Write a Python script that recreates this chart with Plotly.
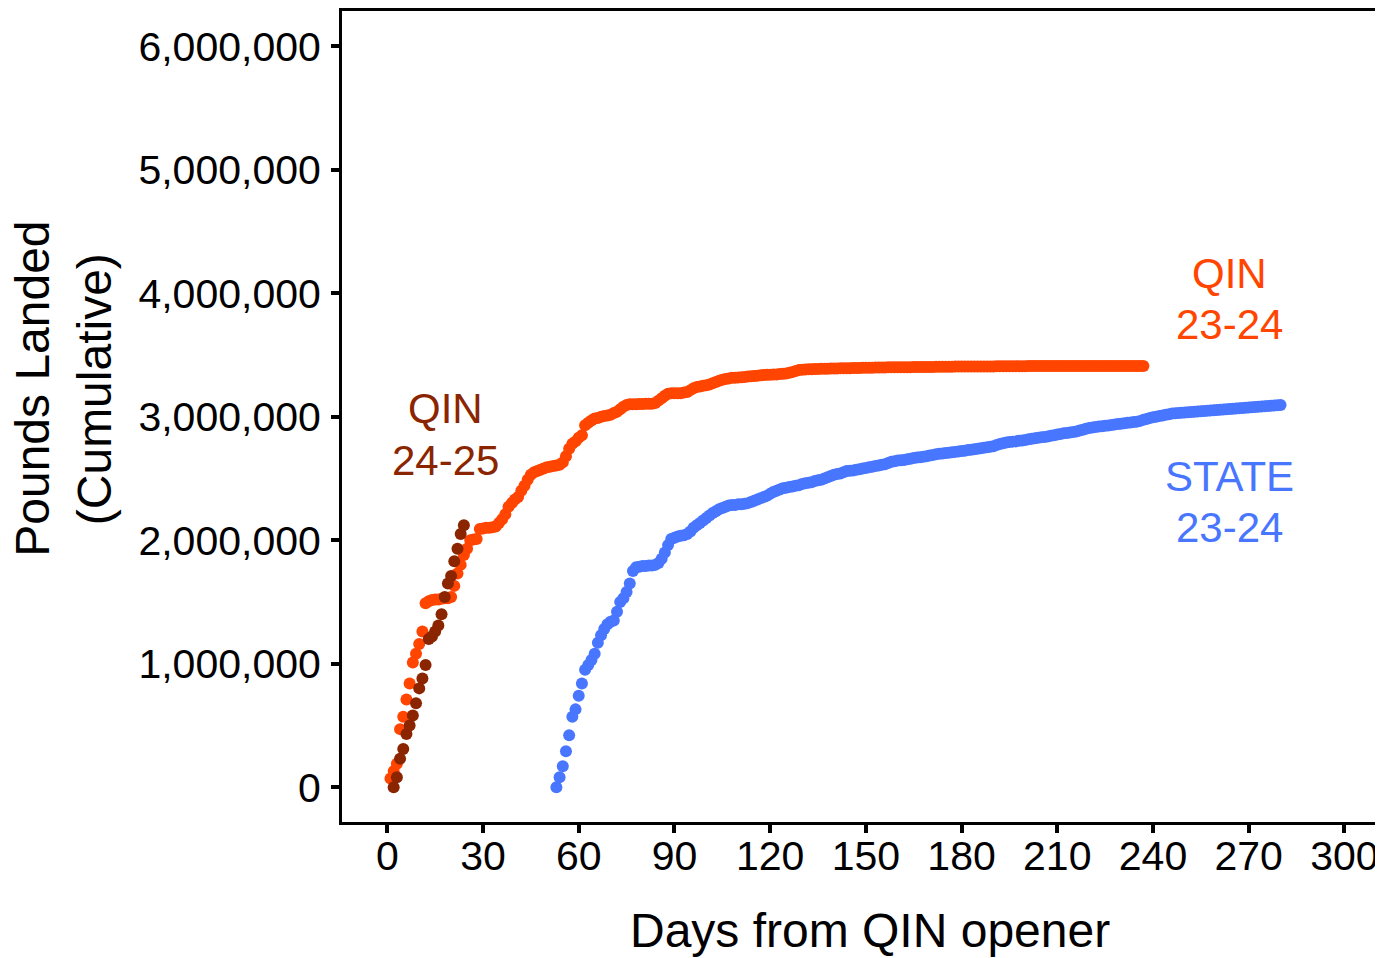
import plotly.graph_objects as go

# ---------------- data (cumulative pounds landed, thousands of lbs) ----------------
qin2324_start_day = 1
qin2324_k = [
    70, 130, 190, 470, 570, 710, 840, 1010, 1080, 1160,
    1260, 1490, 1505, 1515, 1520, 1520, 1525, 1530, 1530, 1540,
    1630, 1730, 1800, 1880, 1930, 2000, 2005, 2010, 2090, 2095,
    2100, 2100, 2105, 2110, 2140, 2170, 2210, 2270, 2300, 2330,
    2350, 2400, 2440, 2490, 2530, 2550, 2560, 2570, 2580, 2590,
    2595, 2600, 2605, 2610, 2630, 2680, 2740, 2780, 2800, 2830,
    2850, 2930, 2950, 2970, 2985, 2990, 3000, 3005, 3010, 3015,
    3030, 3040, 3060, 3080, 3095, 3100, 3100, 3100, 3102, 3102,
    3105, 3105, 3105, 3110, 3130, 3150, 3170, 3185, 3190, 3190,
    3190, 3190, 3195, 3200, 3215, 3230, 3240, 3245, 3250, 3255,
    3260, 3270, 3280, 3290, 3300, 3305, 3310, 3315, 3315, 3318,
    3320, 3322, 3325, 3328, 3330, 3332, 3335, 3338, 3340, 3340,
    3342, 3342, 3345, 3348, 3350, 3355, 3362, 3370, 3378, 3380,
    3382, 3384, 3385, 3386, 3387, 3388, 3388, 3389, 3390, 3390,
    3391, 3392, 3392, 3393, 3393, 3394, 3395, 3395, 3396, 3396,
    3397, 3397, 3398, 3398, 3399, 3399, 3400, 3400, 3400, 3400,
    3401, 3401, 3401, 3401, 3402, 3402, 3402, 3402, 3402, 3403,
    3403, 3404, 3405, 3405, 3405, 3405, 3405, 3406, 3406, 3406,
    3406, 3406, 3406, 3407, 3407, 3407, 3407, 3407, 3407, 3407,
    3408, 3408, 3409, 3409, 3409, 3409, 3409, 3409, 3409, 3409,
    3410, 3410, 3410, 3410, 3410, 3410, 3410, 3410, 3410, 3410,
    3410, 3410, 3410, 3410, 3410, 3410, 3410, 3410, 3410, 3410,
    3410, 3410, 3410, 3410, 3410, 3410, 3410, 3410, 3410, 3410,
    3410, 3410, 3410, 3410, 3410, 3410, 3410,
]

state2324_start_day = 53
state2324_k = [
    0, 80, 170, 290, 420, 570, 630, 740, 840, 950,
    990, 1030, 1080, 1170, 1230, 1280, 1320, 1340, 1350, 1420,
    1500, 1530, 1580, 1650, 1750, 1780, 1785, 1790, 1790, 1795,
    1795, 1800, 1815, 1850, 1900, 1960, 2010, 2020, 2030, 2035,
    2040, 2050, 2070, 2100, 2120, 2140, 2160, 2180, 2200, 2220,
    2235, 2250, 2260, 2270, 2280, 2285, 2285, 2290, 2290, 2295,
    2300, 2310, 2320, 2330, 2340, 2350, 2360, 2375, 2390, 2400,
    2410, 2420, 2425, 2430, 2435, 2440, 2445, 2455, 2460, 2465,
    2470, 2480, 2485, 2490, 2500, 2510, 2520, 2530, 2535, 2540,
    2550, 2560, 2562, 2565, 2570, 2575, 2580, 2585, 2590, 2595,
    2600, 2605, 2610, 2615, 2625, 2635, 2640, 2645, 2648, 2650,
    2655, 2660, 2665, 2670, 2672, 2676, 2680, 2685, 2690, 2695,
    2700, 2702, 2705, 2708, 2712, 2715, 2718, 2722, 2725, 2730,
    2733, 2736, 2740, 2745, 2748, 2752, 2756, 2760, 2770, 2778,
    2785, 2790, 2795, 2798, 2800, 2805, 2808, 2812, 2818, 2822,
    2826, 2830, 2833, 2836, 2840, 2845, 2850, 2855, 2860, 2865,
    2868, 2872, 2876, 2880, 2888, 2895, 2902, 2908, 2913, 2916,
    2920, 2923, 2926, 2929, 2932, 2936, 2940, 2943, 2946, 2950,
    2953, 2956, 2960, 2966, 2975, 2982, 2990, 2996, 3000, 3005,
    3010, 3015, 3020, 3025, 3028, 3030, 3032, 3034, 3036, 3038,
    3040, 3042, 3044, 3046, 3048, 3050, 3052, 3054, 3056, 3058,
    3060, 3062, 3065, 3066, 3068, 3070, 3073, 3074, 3076, 3078,
    3080, 3082, 3084, 3086, 3088, 3090, 3092, 3095,
]

qin2425_start_day = 2
qin2425_k = [
    0, 80, 230, 310, 430, 500, 580, 680, 800, 880,
    990, 1200, 1220, 1260, 1310, 1400, 1540, 1650, 1710, 1830,
    1930, 2050, 2120,
]

x_ticks = [0, 30, 60, 90, 120, 150, 180, 210, 240, 270, 300]
y_ticks = [0, 1000000, 2000000, 3000000, 4000000, 5000000, 6000000]

COL_QIN2324 = "#FF4500"
COL_STATE = "#4876FF"
COL_QIN2425 = "#8B2500"
FONT = "Liberation Sans, Arial, sans-serif"


def series(start, vals_k):
    xs = [start + i for i in range(len(vals_k))]
    ys = [v * 1000 for v in vals_k]
    return xs, ys


fig = go.Figure()
for (start, vals, col, name) in [
    (qin2324_start_day, qin2324_k, COL_QIN2324, "QIN 23-24"),
    (state2324_start_day, state2324_k, COL_STATE, "STATE 23-24"),
    (qin2425_start_day, qin2425_k, COL_QIN2425, "QIN 24-25"),
]:
    xs, ys = series(start, vals)
    fig.add_trace(go.Scatter(
        x=xs, y=ys, mode="markers", name=name,
        marker=dict(color=col, size=12, line=dict(width=0)),
        showlegend=False,
    ))

# series labels (one annotation per line)
labels = [
    ("QIN", 18.2, 3.065e6, COL_QIN2425),
    ("24-25", 18.2, 2.646e6, COL_QIN2425),
    ("QIN", 264.0, 4.159e6, COL_QIN2324),
    ("23-24", 264.0, 3.743e6, COL_QIN2324),
    ("STATE", 264.0, 2.517e6, COL_STATE),
    ("23-24", 264.0, 2.106e6, COL_STATE),
]
for txt, lx, ly, col in labels:
    fig.add_annotation(x=lx, y=ly, xref="x", yref="y", text=txt, showarrow=False,
                       xanchor="center", yanchor="middle",
                       font=dict(family=FONT, size=42, color=col))

# axis titles
fig.add_annotation(x=0.507, y=-0.134, xref="paper", yref="paper",
                   text="Days from QIN opener", showarrow=False,
                   xanchor="center", yanchor="middle",
                   font=dict(family=FONT, size=48, color="black"))
fig.add_annotation(x=-0.297, y=0.534, xref="paper", yref="paper",
                   text="Pounds Landed", showarrow=False, textangle=-90,
                   xanchor="center", yanchor="middle",
                   font=dict(family=FONT, size=48, color="black"))
fig.add_annotation(x=-0.237, y=0.534, xref="paper", yref="paper",
                   text="(Cumulative)", showarrow=False, textangle=-90,
                   xanchor="center", yanchor="middle",
                   font=dict(family=FONT, size=48, color="black"))

# the page body has an 8px margin, so the figure is sized to end at the window edge
fig.update_layout(
    width=1375, height=950,
    margin=dict(l=334, r=0, t=1, b=136),
    plot_bgcolor="white", paper_bgcolor="white",
    font=dict(family=FONT, color="black"),
    showlegend=False,
)
fig.update_xaxes(
    range=[-14.2, 312.1], tickvals=x_ticks, ticktext=[str(v) for v in x_ticks],
    showgrid=False, zeroline=False,
    showline=True, linecolor="black", linewidth=3, mirror=True,
    ticks="outside", ticklen=8, tickwidth=3.5, tickcolor="black",
    ticklabelstandoff=-12,
    tickfont=dict(family=FONT, size=41, color="black"),
)
fig.update_yaxes(
    range=[-282000, 6285000], tickvals=y_ticks, tickformat=",d",
    showgrid=False, zeroline=False,
    showline=True, linecolor="black", linewidth=3,
    ticks="outside", ticklen=8, tickwidth=3.5, tickcolor="black",
    ticklabelstandoff=2,
    tickfont=dict(family=FONT, size=41, color="black"),
)

fig.write_html("out.html")
